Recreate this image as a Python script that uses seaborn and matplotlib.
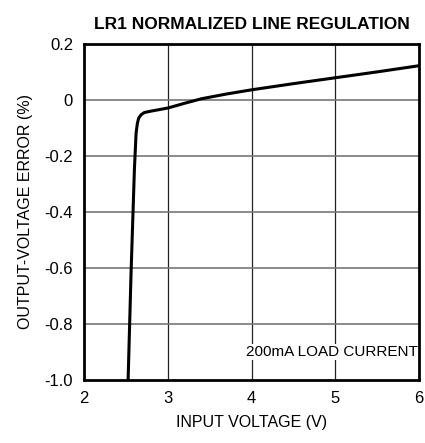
import matplotlib
matplotlib.use("Agg")
import matplotlib.pyplot as plt
import pandas as pd
import seaborn as sns

input_voltage = [2.525, 2.56, 2.60, 2.62, 2.635, 2.65, 2.68, 2.72, 2.80, 3.0, 3.2, 3.4, 3.7, 4.0, 4.5, 5.0, 5.5, 6.0]
output_error = [-1.0, -0.62, -0.25, -0.12, -0.085, -0.066, -0.053, -0.045, -0.040, -0.029, -0.012, 0.004, 0.021, 0.036, 0.058, 0.079, 0.100, 0.122]

x_ticks = [2, 3, 4, 5, 6]
y_ticks = [-1.0, -0.8, -0.6, -0.4, -0.2, 0, 0.2]
y_labels = ["-1.0", "-0.8", "-0.6", "-0.4", "-0.2", "0", "0.2"]

sns.set_theme(style="white")
plt.rcParams["font.family"] = ["Liberation Sans Narrow", "Liberation Sans", "DejaVu Sans"]
plt.rcParams.update({"text.color": "black", "axes.labelcolor": "black",
                     "xtick.color": "black", "ytick.color": "black"})

df = pd.DataFrame({"vin": input_voltage, "err": output_error})

fig, ax = plt.subplots(figsize=(4.25, 4.43), dpi=100)
fig.subplots_adjust(left=0.198, right=0.986, top=0.901, bottom=0.142)

for x in x_ticks[1:-1]:
    ax.axvline(x, color="#222222", lw=0.9, zorder=1)
for y in y_ticks[1:-1]:
    ax.axhline(y, color="#777777", lw=1.2, zorder=1)

sns.lineplot(data=df, x="vin", y="err", color="black", lw=2.2, ax=ax, zorder=3)

ax.set_xlim(2, 6)
ax.set_ylim(-1.0, 0.2)
ax.set_xticks(x_ticks)
ax.set_yticks(y_ticks)
ax.set_yticklabels(y_labels)
ax.tick_params(labelsize=12, length=0, pad=8)
for s in ax.spines.values():
    s.set_color("black")
    s.set_linewidth(2)

ax.set_xlabel("INPUT VOLTAGE (V)", fontsize=11.5, labelpad=6)
ax.set_ylabel("OUTPUT-VOLTAGE ERROR (%)", fontsize=11.5, labelpad=8)
ax.set_title("LR1 NORMALIZED LINE REGULATION", fontsize=12.5, fontweight="bold", pad=11)

ax.text(5.98, -0.9, "200mA LOAD CURRENT", ha="right", va="center", fontsize=11,
        bbox=dict(facecolor="white", edgecolor="none", pad=1), zorder=2)

fig.savefig("out.png", dpi=100)
